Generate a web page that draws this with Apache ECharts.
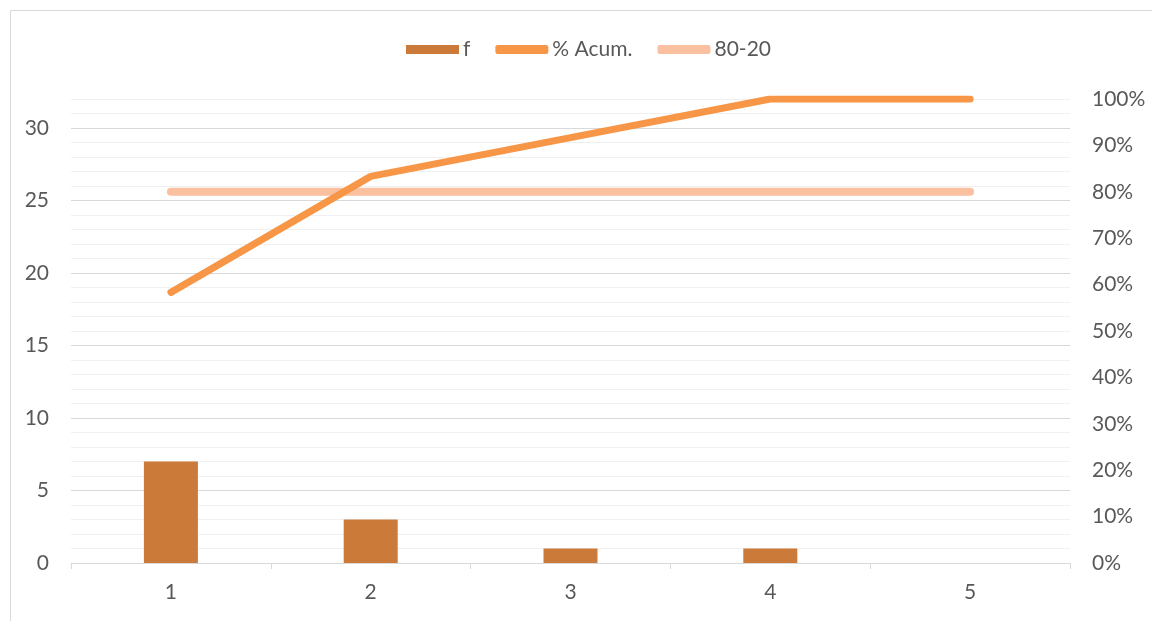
<!DOCTYPE html>
<html>
<head>
<meta charset="utf-8">
<script src="https://cdn.jsdelivr.net/npm/echarts@6/dist/echarts.min.js"></script>
<style>
html,body{margin:0;padding:0;background:#fff;}
#chart{width:1152px;height:621px;}
</style>
</head>
<body>
<div id="chart"></div>
<script>
const categories = ['1', '2', '3', '4', '5'];
const freq = [7, 3, 1, 1, 0];
const cumPct = [0.5833, 0.8333, 0.9167, 1.0, 1.0];
const pareto = [0.8, 0.8, 0.8, 0.8, 0.8];

const chart = echarts.init(document.getElementById('chart'));
const FONT = 'Lato';
const LABEL = '#595959';
chart.setOption({
  animation: false,
  textStyle: { fontFamily: FONT },
  graphic: [{
    type: 'rect', left: 8, top: 8,
    shape: { width: 1160, height: 640 },
    style: { fill: 'none', stroke: '#d9d9d9', lineWidth: 1 },
    silent: true, z: -1
  }],
  legend: {
    top: 34, left: 401,
    itemGap: 25, itemWidth: 53, itemHeight: 9,
    textStyle: { color: LABEL, fontSize: 21, fontFamily: FONT, padding: [0, 0, 0, -1] },
    data: [
      { name: 'f', icon: 'rect' },
      { name: '% Acum.', icon: 'roundRect' },
      { name: '80-20', icon: 'roundRect' }
    ]
  },
  grid: { left: 71, right: 82, top: 99, bottom: 58, containLabel: false },
  xAxis: {
    type: 'category', data: categories,
    boundaryGap: true,
    axisLine: { lineStyle: { color: '#d9d9d9', width: 1 } },
    axisTick: { show: true, length: 6, lineStyle: { color: '#d9d9d9' } },
    axisLabel: { color: LABEL, fontSize: 21, margin: 19, fontFamily: FONT }
  },
  yAxis: [{
    type: 'value', min: 0, max: 32, interval: 1,
    axisLine: { show: false }, axisTick: { show: false },
    axisLabel: {
      color: LABEL, fontSize: 21, margin: 22, fontFamily: FONT,
      formatter: v => (v % 5 === 0 ? String(v) : '')
    },
    splitLine: {
      lineStyle: { color: ['#d9d9d9', '#f0f0f0', '#f0f0f0', '#f0f0f0', '#f0f0f0'], width: 1 }
    }
  }, {
    type: 'value', min: 0, max: 1, interval: 0.1,
    position: 'right',
    axisLine: { show: false }, axisTick: { show: false },
    splitLine: { show: false },
    axisLabel: {
      color: LABEL, fontSize: 21, margin: 22, fontFamily: FONT,
      formatter: v => Math.round(v * 100) + '%'
    }
  }],
  series: [{
    name: 'f', type: 'bar', data: freq, barWidth: 54,
    itemStyle: { color: '#CC7A3A' }, z: 2
  }, {
    name: '% Acum.', type: 'line', yAxisIndex: 1, data: cumPct,
    symbol: 'none', showSymbol: false,
    lineStyle: { color: '#F79646', width: 7, cap: 'round', join: 'round' },
    itemStyle: { color: '#F79646' }, z: 4
  }, {
    name: '80-20', type: 'line', yAxisIndex: 1, data: pareto,
    symbol: 'none', showSymbol: false,
    lineStyle: { color: '#FAC09F', width: 8, cap: 'round' },
    itemStyle: { color: '#FAC09F' }, z: 3
  }]
});
</script>
</body>
</html>
